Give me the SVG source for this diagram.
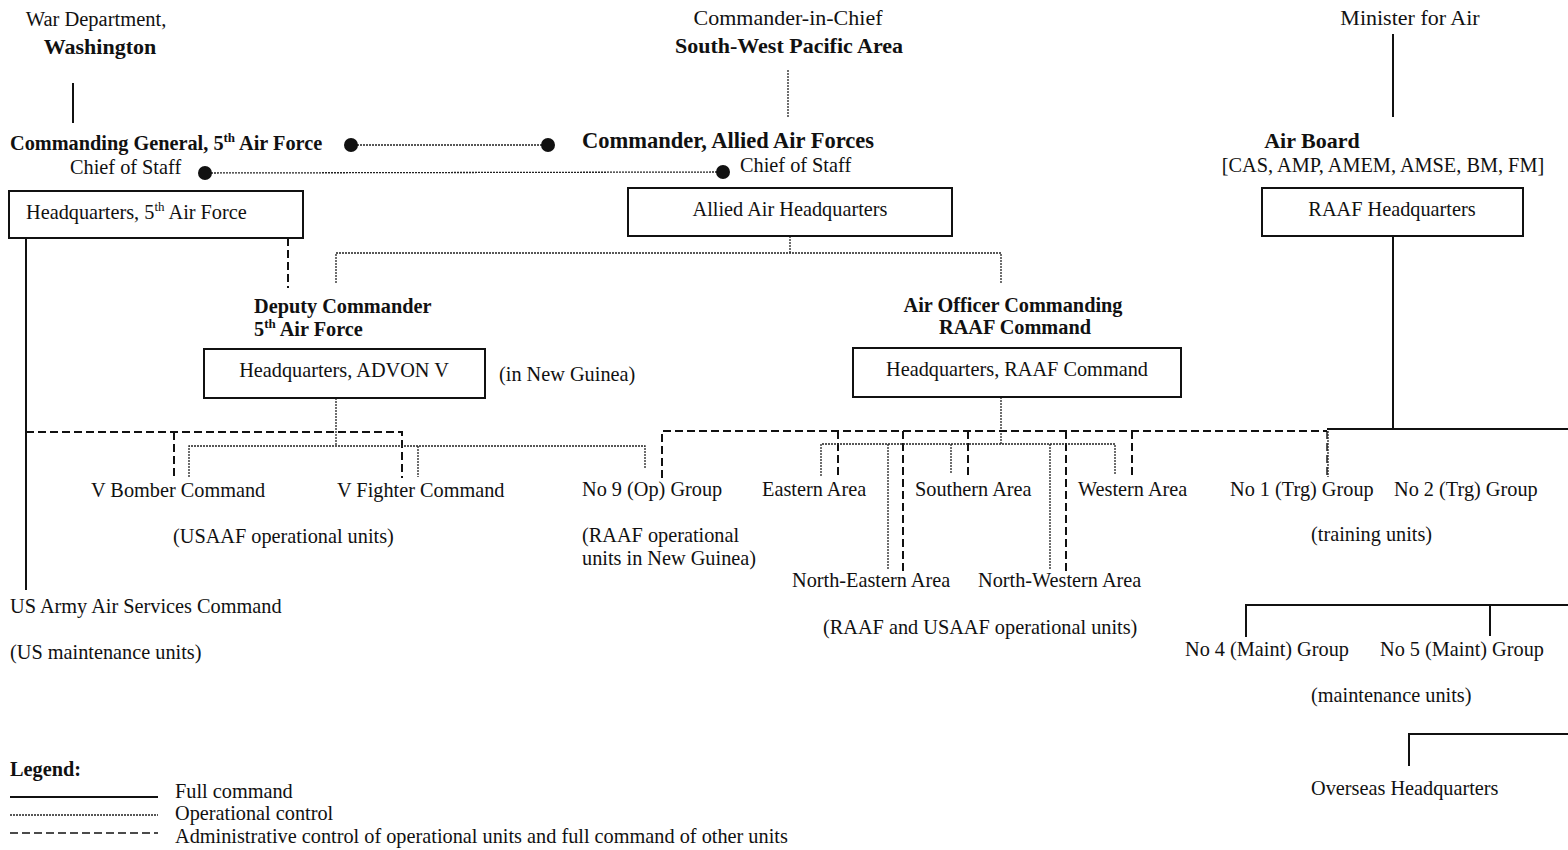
<svg xmlns="http://www.w3.org/2000/svg" width="1568" height="850" viewBox="0 0 1568 850">
<style>
.t{font-family:"Liberation Serif","Times New Roman",serif;font-size:20.3px;fill:#111}
.b{font-weight:bold}
.h{font-size:22px}
.m{text-anchor:middle}
.box{fill:#fff;stroke:#111;stroke-width:2}
.solid{stroke:#111;stroke-width:2;fill:none}
.dot{stroke:#222;stroke-width:1.3;stroke-dasharray:2 1;fill:none}
.dash{stroke:#111;stroke-width:2;stroke-dasharray:8 4;fill:none}
.pt{fill:#111}
</style>
<rect width="1568" height="850" fill="#fff"/>

<g id="connectors">
  <line class="solid" x1="73" y1="83" x2="73" y2="123"/>
  <line class="dot" x1="788" y1="70" x2="788" y2="118"/>
  <line class="solid" x1="1393" y1="34" x2="1393" y2="117"/>
  <line class="dot" x1="351" y1="145" x2="548" y2="145"/>
  <line class="dot" x1="205" y1="173" x2="723" y2="172"/>
  <circle class="pt" cx="351" cy="145" r="7"/>
  <circle class="pt" cx="548" cy="145" r="7"/>
  <circle class="pt" cx="205" cy="173" r="7"/>
  <circle class="pt" cx="723" cy="172" r="7"/>
  <line class="dash" x1="288" y1="238" x2="288" y2="288"/>
  <line class="solid" x1="26" y1="238" x2="26" y2="590"/>
  <line class="dot" x1="790" y1="236" x2="790" y2="253"/>
  <polyline class="dot" points="336,283 336,253 1001,253 1001,283"/>
  <line class="solid" x1="1393" y1="236" x2="1393" y2="429"/>
  <line class="dot" x1="336" y1="398" x2="336" y2="446"/>
  <polyline class="dash" points="26,432 402,432 402,478"/>
  <line class="dash" x1="174" y1="432" x2="174" y2="478"/>
  <polyline class="dot" points="189,477 189,446 645,446 645,468"/>
  <line class="dot" x1="418" y1="446" x2="418" y2="477"/>
  <line class="dot" x1="1001" y1="397" x2="1001" y2="444"/>
  <polyline class="dash" points="662,478 662,431 1327,431"/>
  <line class="dash" x1="838" y1="431" x2="838" y2="477"/>
  <line class="dash" x1="903" y1="431" x2="903" y2="571"/>
  <line class="dash" x1="968" y1="431" x2="968" y2="477"/>
  <line class="dash" x1="1066" y1="431" x2="1066" y2="571"/>
  <line class="dash" x1="1132" y1="431" x2="1132" y2="477"/>
  <polyline class="dot" points="821,476 821,444 1115,444 1115,474"/>
  <line class="dot" x1="888" y1="444" x2="888" y2="569"/>
  <line class="dot" x1="951" y1="444" x2="951" y2="474"/>
  <line class="dot" x1="1050" y1="444" x2="1050" y2="569"/>
  <line class="solid" x1="1327" y1="429" x2="1568" y2="429"/>
  <line class="dash" x1="1327" y1="431" x2="1327" y2="477" style="stroke-width:1.4"/>
  <line class="dot" x1="1328" y1="431" x2="1328" y2="477"/>
  <polyline class="solid" points="1246,637 1246,605 1568,605"/>
  <line class="solid" x1="1490" y1="605" x2="1490" y2="636"/>
  <polyline class="solid" points="1409,766 1409,734 1568,734"/>
</g>

<g id="war-department">
  <text class="t m" x="96" y="26" style="font-size:20.5px">War Department,</text>
  <text class="t h b m" x="100" y="54">Washington</text>
</g>
<g id="cinc-swpa">
  <text class="t h m" x="788" y="25">Commander-in-Chief</text>
  <text class="t h b m" x="789" y="53">South-West Pacific Area</text>
</g>
<g id="minister-for-air">
  <text class="t h m" x="1410" y="25">Minister for Air</text>
</g>
<g id="commanding-general">
  <text class="t b" x="10" y="150">Commanding General, 5<tspan font-size="13" dy="-8">th</tspan><tspan dy="8"> Air Force</tspan></text>
  <text class="t" x="70" y="174">Chief of Staff</text>
</g>
<g id="commander-allied-air-forces">
  <text class="t b" x="582" y="148" style="font-size:22.5px">Commander, Allied Air Forces</text>
  <text class="t" x="740" y="172">Chief of Staff</text>
</g>
<g id="air-board">
  <text class="t h b m" x="1312" y="148">Air Board</text>
  <text class="t m" x="1383" y="172">[CAS, AMP, AMEM, AMSE, BM, FM]</text>
</g>
<g id="hq-5th-air-force">
  <rect class="box" x="9" y="191" width="294" height="47"/>
  <text class="t" x="26" y="219">Headquarters, 5<tspan font-size="13" dy="-8">th</tspan><tspan dy="8"> Air Force</tspan></text>
</g>
<g id="allied-air-hq">
  <rect class="box" x="628" y="188" width="324" height="48"/>
  <text class="t m" x="790" y="216">Allied Air Headquarters</text>
</g>
<g id="raaf-hq">
  <rect class="box" x="1262" y="188" width="261" height="48"/>
  <text class="t m" x="1392" y="216">RAAF Headquarters</text>
</g>
<g id="deputy-commander">
  <text class="t b" x="254" y="313">Deputy Commander</text>
  <text class="t b" x="254" y="336">5<tspan font-size="13" dy="-8">th</tspan><tspan dy="8"> Air Force</tspan></text>
</g>
<g id="aoc-raaf-command">
  <text class="t b m" x="1013" y="312">Air Officer Commanding</text>
  <text class="t b m" x="1015" y="334">RAAF Command</text>
</g>
<g id="hq-advon-v">
  <rect class="box" x="204" y="349" width="281" height="49"/>
  <text class="t m" x="344" y="377">Headquarters, ADVON V</text>
  <text class="t" x="499" y="381">(in New Guinea)</text>
</g>
<g id="hq-raaf-command">
  <rect class="box" x="853" y="348" width="328" height="49"/>
  <text class="t m" x="1017" y="376">Headquarters, RAAF Command</text>
</g>
<g id="v-bomber-command"><text class="t" x="91" y="497">V Bomber Command</text></g>
<g id="v-fighter-command"><text class="t" x="337" y="497">V Fighter Command</text></g>
<g id="usaaf-units"><text class="t" x="173" y="543">(USAAF operational units)</text></g>
<g id="no9-group">
  <text class="t" x="582" y="496">No 9 (Op) Group</text>
  <text class="t" x="582" y="542">(RAAF operational</text>
  <text class="t" x="582" y="565">units in New Guinea)</text>
</g>
<g id="eastern-area"><text class="t" x="762" y="496">Eastern Area</text></g>
<g id="southern-area"><text class="t" x="915" y="496">Southern Area</text></g>
<g id="western-area"><text class="t" x="1078" y="496">Western Area</text></g>
<g id="north-eastern-area"><text class="t" x="792" y="587">North-Eastern Area</text></g>
<g id="north-western-area"><text class="t" x="978" y="587">North-Western Area</text></g>
<g id="area-units"><text class="t" x="823" y="634">(RAAF and USAAF operational units)</text></g>
<g id="no1-group"><text class="t" x="1230" y="496">No 1 (Trg) Group</text></g>
<g id="no2-group"><text class="t" x="1394" y="496">No 2 (Trg) Group</text></g>
<g id="training-units"><text class="t" x="1311" y="541">(training units)</text></g>
<g id="us-army-air-services">
  <text class="t" x="10" y="613">US Army Air Services Command</text>
  <text class="t" x="10" y="659">(US maintenance units)</text>
</g>
<g id="no4-group"><text class="t" x="1185" y="656">No 4 (Maint) Group</text></g>
<g id="no5-group"><text class="t" x="1380" y="656">No 5 (Maint) Group</text></g>
<g id="maintenance-units"><text class="t" x="1311" y="702">(maintenance units)</text></g>
<g id="overseas-hq"><text class="t" x="1311" y="795">Overseas Headquarters</text></g>

<g id="legend">
  <text class="t b" x="10" y="776">Legend:</text>
  <line class="solid" x1="10" y1="797" x2="158" y2="797"/>
  <text class="t" x="175" y="798">Full command</text>
  <line class="dot" x1="10" y1="815" x2="158" y2="815"/>
  <text class="t" x="175" y="820">Operational control</text>
  <line class="dash" x1="10" y1="833" x2="158" y2="833" style="stroke-width:1.6"/>
  <text class="t" x="175" y="843">Administrative control of operational units and full command of other units</text>
</g>
</svg>
